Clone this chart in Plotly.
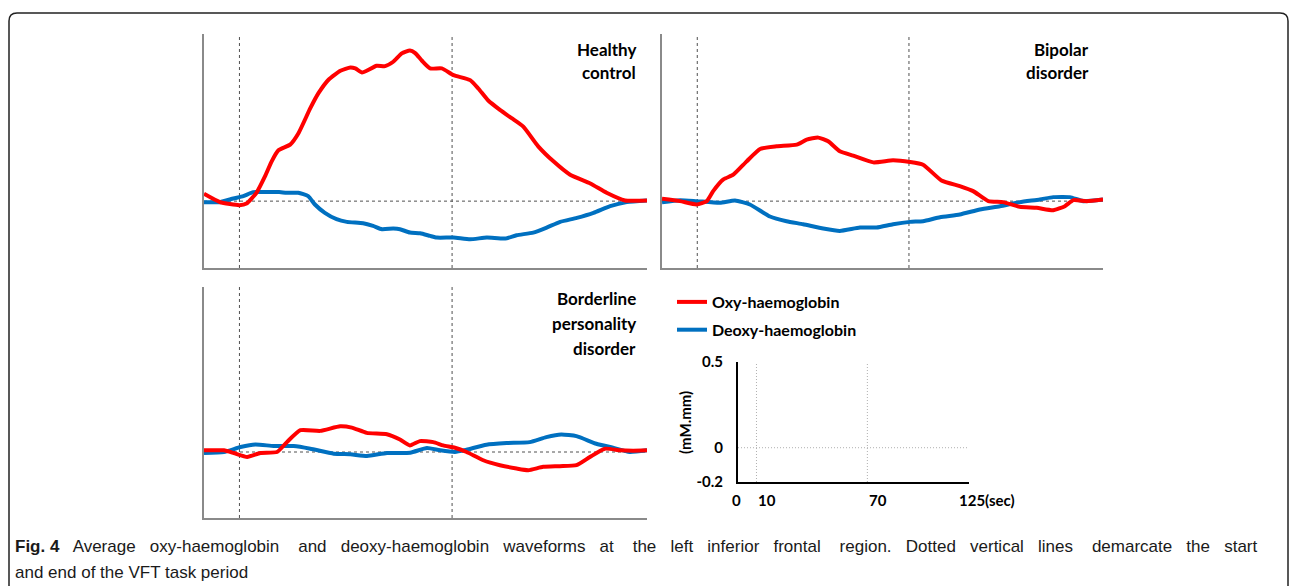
import plotly.graph_objects as go

W, H = 1290, 586

# ---------------- data (time in s, value in mM.mm) ----------------
HC_OXY_T = [0, 4.5, 10, 12, 14.8, 17.2, 19.1, 21, 24.3, 26.7, 30, 32.3, 35.2, 38.5, 41.3, 42.7,
            44.6, 45.9, 48.7, 51.1, 53.4, 55.8, 58.1, 59.6, 61.5, 63.8, 67.1, 70.4, 75.1, 77.4,
            80.2, 83.5, 86.8, 90.1, 94.3, 98.6, 103.3, 109, 113.6, 118.8, 125]
HC_OXY = [0.022, -0.003, -0.012, -0.007, 0.025, 0.074, 0.119, 0.152, 0.169, 0.204, 0.278, 0.323,
          0.364, 0.390, 0.400, 0.397, 0.385, 0.390, 0.405, 0.404, 0.417, 0.442, 0.451, 0.443,
          0.420, 0.397, 0.397, 0.377, 0.362, 0.337, 0.301, 0.273, 0.248, 0.223, 0.164, 0.119,
          0.079, 0.053, 0.025, 0.002, 0.002]
HC_DEOXY_T = [0, 4.5, 8.3, 11.1, 13.9, 17.7, 21.2, 23.3, 26.6, 29.4, 31.3, 34.1, 37.4, 40.3,
              44.9, 47.7, 50.2, 53.4, 55.3, 58.1, 61, 63.8, 65.7, 70.4, 75.1, 79.8, 85, 88.2,
              92.9, 96.7, 100.5, 105.2, 109.9, 114.6, 119.3, 125]
HC_DEOXY = [-0.003, -0.003, 0.008, 0.015, 0.027, 0.027, 0.027, 0.025, 0.025, 0.015, -0.010,
            -0.035, -0.054, -0.062, -0.066, -0.074, -0.084, -0.082, -0.084, -0.094, -0.096,
            -0.104, -0.109, -0.109, -0.114, -0.109, -0.112, -0.102, -0.094, -0.079, -0.062,
            -0.050, -0.035, -0.015, -0.003, 0.002]

BD_OXY_T = [0, 5.1, 9.8, 12.7, 14.5, 17.4, 20.2, 24, 27.8, 32.5, 38.2, 41, 44.3, 47.1, 50.4,
            54.2, 59.9, 65.5, 70.3, 74, 79.2, 84.4, 88.2, 92.5, 96.7, 101.4, 106.2, 110.9,
            114.2, 116.6, 120.4, 125]
BD_OXY = [0.007, 0.0, -0.010, 0.0, 0.030, 0.065, 0.079, 0.119, 0.156, 0.164, 0.169, 0.184,
          0.190, 0.179, 0.149, 0.136, 0.116, 0.122, 0.117, 0.109, 0.062, 0.045, 0.030, 0.0,
          -0.003, -0.017, -0.020, -0.027, -0.015, 0.003, 0.0, 0.005]
BD_DEOXY_T = [0, 5.1, 9.8, 16.4, 20.7, 24.9, 30.6, 35.3, 40, 45.7, 50.4, 56.1, 60.8, 65.5,
              70.3, 74, 78.8, 84.4, 90.1, 95.8, 101.4, 107.1, 110.9, 115.6, 119.4, 125]
BD_DEOXY = [-0.003, 0.003, 0.0, -0.005, 0.002, -0.010, -0.046, -0.060, -0.069, -0.082, -0.089,
            -0.079, -0.079, -0.069, -0.062, -0.060, -0.048, -0.040, -0.025, -0.015, -0.003,
            0.005, 0.012, 0.012, 0.0, 0.005]

BPD_OXY_T = [0, 5.6, 8.4, 12.2, 15.9, 20.6, 23.4, 27.2, 32.8, 38.4, 41.7, 45.9, 51.6, 55.3,
             58.1, 60.9, 64.7, 67.5, 70.8, 74.1, 78.8, 83.5, 88.2, 91.5, 95.7, 100.4, 105.1,
             108.9, 113.1, 117.4, 121.1, 125]
BPD_OXY = [0.005, 0.005, -0.003, -0.015, -0.003, 0.0, 0.030, 0.066, 0.064, 0.078, 0.074, 0.058,
           0.054, 0.038, 0.020, 0.033, 0.030, 0.020, 0.013, 0.0, -0.025, -0.040, -0.050,
           -0.055, -0.045, -0.043, -0.040, -0.015, 0.010, 0.005, 0.004, 0.005]
BPD_DEOXY_T = [0, 5.6, 10.3, 14.5, 19.7, 25.3, 30, 36.6, 41.3, 46, 51.6, 58.2, 62.9, 66.6,
               70.8, 74.1, 79.7, 85.4, 91.9, 96.6, 100.8, 105.1, 110.7, 115.4, 120.1, 125]
BPD_DEOXY = [-0.003, 0.0, 0.015, 0.023, 0.018, 0.018, 0.010, -0.005, -0.007, -0.012, -0.003,
             -0.002, 0.012, 0.005, 0.0, 0.007, 0.022, 0.027, 0.030, 0.045, 0.053, 0.048, 0.025,
             0.013, 0.0, 0.005]

PANEL_TITLES = [["Healthy", "control"], ["Bipolar", "disorder"],
                ["Borderline", "personality", "disorder"]]
SERIES_NAMES = ["Oxy-haemoglobin", "Deoxy-haemoglobin"]
TIME_RANGE = [0, 125]
VALUE_RANGE = [-0.2, 0.5]
TASK_START, TASK_END = 10, 70
SCALE_Y_TICKS = [-0.2, 0, 0.5]
SCALE_X_TICKS = [0, 10, 70, 125]
SCALE_X_LABELS = ["0", "10", "70", "125(sec)"]
Y_UNIT = "(mM.mm)"
CAPTION_BOLD = "Fig. 4"
CAPTION_LINE1 = ("Average oxy-haemoglobin and deoxy-haemoglobin waveforms at the left inferior "
                 "frontal region. Dotted vertical lines demarcate the start")
CAPTION_LINE2 = "and end of the VFT task period"

RED = "#ff0000"
BLUE = "#0070c0"
AXIS_GREY = "#8a8a8a"
DASH_GREY = "#505050"
LABEL_FONT = "Lato, 'Open Sans', sans-serif"
CAPTION_FONT = "'Liberation Sans', Arial, sans-serif"


def px_x(p):
    return p / W


def px_y(p):
    return 1 - p / H


fig = go.Figure()

panels = [
    dict(xa="x", ya="y", x0=204, x1=647, y0=34, y1=268),
    dict(xa="x2", ya="y2", x0=662, x1=1103, y0=34, y1=268),
    dict(xa="x3", ya="y3", x0=204, x1=647, y0=287, y1=518),
]
scale_box = dict(x0=738, x1=969, y0=362, y1=482)

panel_data = [
    (HC_OXY_T, HC_OXY, HC_DEOXY_T, HC_DEOXY),
    (BD_OXY_T, BD_OXY, BD_DEOXY_T, BD_DEOXY),
    (BPD_OXY_T, BPD_OXY, BPD_DEOXY_T, BPD_DEOXY),
]

for i, (p, (ot, ov, dt, dv)) in enumerate(zip(panels, panel_data)):
    fig.add_trace(go.Scatter(x=dt, y=dv, mode="lines", xaxis=p["xa"], yaxis=p["ya"],
                             line=dict(color=BLUE, width=4, shape="spline", smoothing=0.5),
                             name=SERIES_NAMES[1], legendgroup="deoxy", showlegend=(i == 0),
                             legendrank=2))
    fig.add_trace(go.Scatter(x=ot, y=ov, mode="lines", xaxis=p["xa"], yaxis=p["ya"],
                             line=dict(color=RED, width=4, shape="spline", smoothing=0.5),
                             name=SERIES_NAMES[0], legendgroup="oxy", showlegend=(i == 0),
                             legendrank=1))

fig.add_trace(go.Scatter(x=TIME_RANGE, y=[0, 0], mode="lines", xaxis="x4", yaxis="y4",
                         line=dict(color="rgba(0,0,0,0)"), showlegend=False, hoverinfo="skip"))

layout = dict(width=W, height=H, autosize=False, margin=dict(l=0, r=0, t=0, b=0, autoexpand=False),
              plot_bgcolor="white", paper_bgcolor="white")

for i, p in enumerate(panels):
    sfx = "" if i == 0 else str(i + 1)
    layout["xaxis" + sfx] = dict(domain=[px_x(p["x0"]), px_x(p["x1"])], range=TIME_RANGE,
                                 anchor=p["ya"], showline=True, linecolor=AXIS_GREY, linewidth=2,
                                 showgrid=False, zeroline=False, showticklabels=False, ticks="",
                                 fixedrange=True)
    layout["yaxis" + sfx] = dict(domain=[px_y(p["y1"]), px_y(p["y0"])], range=VALUE_RANGE,
                                 anchor=p["xa"], showline=True, linecolor=AXIS_GREY, linewidth=2,
                                 showgrid=False, zeroline=False, showticklabels=False, ticks="",
                                 fixedrange=True)

layout["xaxis4"] = dict(domain=[px_x(scale_box["x0"]), px_x(scale_box["x1"])], range=TIME_RANGE,
                        anchor="y4", showline=True, linecolor="black", linewidth=2,
                        showgrid=False, zeroline=False, showticklabels=False, ticks="",
                        fixedrange=True)
layout["yaxis4"] = dict(domain=[px_y(scale_box["y1"]), px_y(scale_box["y0"])], range=VALUE_RANGE,
                        anchor="x4", showline=True, linecolor="black", linewidth=2,
                        showgrid=False, zeroline=False, tickvals=SCALE_Y_TICKS,
                        ticktext=[f"{v:g}" for v in SCALE_Y_TICKS], ticks="",
                        ticklabelstandoff=10,
                        tickfont=dict(family=LABEL_FONT, size=15, color="black", weight="bold"),
                        fixedrange=True)

layout["legend"] = dict(x=px_x(672), y=px_y(285), xanchor="left", yanchor="top",
                        bgcolor="rgba(0,0,0,0)", traceorder="grouped", tracegroupgap=4,
                        font=dict(family=LABEL_FONT, size=16, color="black", weight="bold"),
                        itemwidth=30)

shapes = []
for p in panels:
    shapes.append(dict(type="line", xref=p["xa"], yref=p["ya"], x0=TIME_RANGE[0],
                       x1=TIME_RANGE[1], y0=0, y1=0,
                       line=dict(color=DASH_GREY, width=1, dash="3px,3px"), layer="below"))
    for tv in (TASK_START, TASK_END):
        shapes.append(dict(type="line", xref=p["xa"], yref=p["ya"] + " domain", x0=tv, x1=tv,
                           y0=0, y1=1, line=dict(color=DASH_GREY, width=1, dash="3px,3px"),
                           layer="below"))
shapes.append(dict(type="line", xref="x4", yref="y4", x0=TIME_RANGE[0], x1=TIME_RANGE[1],
                   y0=0, y1=0, line=dict(color="#b0b0b0", width=1, dash="1px,2px"),
                   layer="below"))
for tv in (TASK_START, TASK_END):
    shapes.append(dict(type="line", xref="x4", yref="y4 domain", x0=tv, x1=tv, y0=0, y1=1,
                       line=dict(color="#b0b0b0", width=1, dash="1px,2px"), layer="below"))

# rounded outer frame (runs off the bottom of the page)
fx0, fx1, fy0, fyb, r = 9, 1288, 13, 600, 8
path = (f"M {px_x(fx0)},{px_y(fyb)} L {px_x(fx0)},{px_y(fy0 + r)} "
        f"Q {px_x(fx0)},{px_y(fy0)} {px_x(fx0 + r)},{px_y(fy0)} "
        f"L {px_x(fx1 - r)},{px_y(fy0)} Q {px_x(fx1)},{px_y(fy0)} {px_x(fx1)},{px_y(fy0 + r)} "
        f"L {px_x(fx1)},{px_y(fyb)}")
shapes.append(dict(type="path", xref="paper", yref="paper", path=path,
                   line=dict(color="#222222", width=1.5)))
layout["shapes"] = shapes

ann = []
title_pos = [(638, 49, 24), (1091, 49, 24), (638, 298, 25)]
for lines, (xr, y0, dy) in zip(PANEL_TITLES, title_pos):
    for k, txt in enumerate(lines):
        ann.append(dict(text=txt, xref="paper", yref="paper", x=px_x(xr), y=px_y(y0 + k * dy),
                        xanchor="right", yanchor="middle", showarrow=False,
                        font=dict(family=LABEL_FONT, size=17, color="black", weight="bold")))

x_anchor = ["center", "left", "left", "left"]
x_shift = [-1, 0, 0, -12]
for v, lab, xa, xs in zip(SCALE_X_TICKS, SCALE_X_LABELS, x_anchor, x_shift):
    ann.append(dict(text=lab, xref="x4", yref="y4 domain", x=v, y=0, yshift=-18,
                    xanchor=xa, yanchor="middle", xshift=xs, showarrow=False,
                    font=dict(family=LABEL_FONT, size=15, color="black", weight="bold")))
ann.append(dict(text=Y_UNIT, xref="paper", yref="paper", x=px_x(685), y=px_y(423),
                xanchor="center", yanchor="middle", textangle=-90, showarrow=False,
                font=dict(family=LABEL_FONT, size=15, color="black", weight="bold")))

# justified first caption line: widen the word gaps with non-breaking spaces
words = CAPTION_LINE1.split(" ")
cap_body = words[0]
for gi, wd in enumerate(words[1:]):
    gap = "\u00a0\u00a0\u00a0 " if gi % 4 == 1 else "\u00a0\u00a0 "
    cap_body += gap + wd
cap1 = "<b>" + CAPTION_BOLD + "</b>\u00a0\u00a0 " + cap_body
ann.append(dict(text=cap1, xref="paper", yref="paper", x=px_x(13), y=px_y(546),
                xanchor="left", yanchor="middle", showarrow=False, align="left",
                font=dict(family=CAPTION_FONT, size=17, color="#1a1a1a")))
ann.append(dict(text=CAPTION_LINE2, xref="paper", yref="paper", x=px_x(13), y=px_y(572),
                xanchor="left", yanchor="middle", showarrow=False, align="left",
                font=dict(family=CAPTION_FONT, size=17, color="#1a1a1a")))
layout["annotations"] = ann

fig.update_layout(**layout)
fig.write_html("out.html",
               post_script="document.body.style.margin='0px';"
                           "document.documentElement.style.overflow='hidden';",
               config={"displayModeBar": False, "responsive": False})
